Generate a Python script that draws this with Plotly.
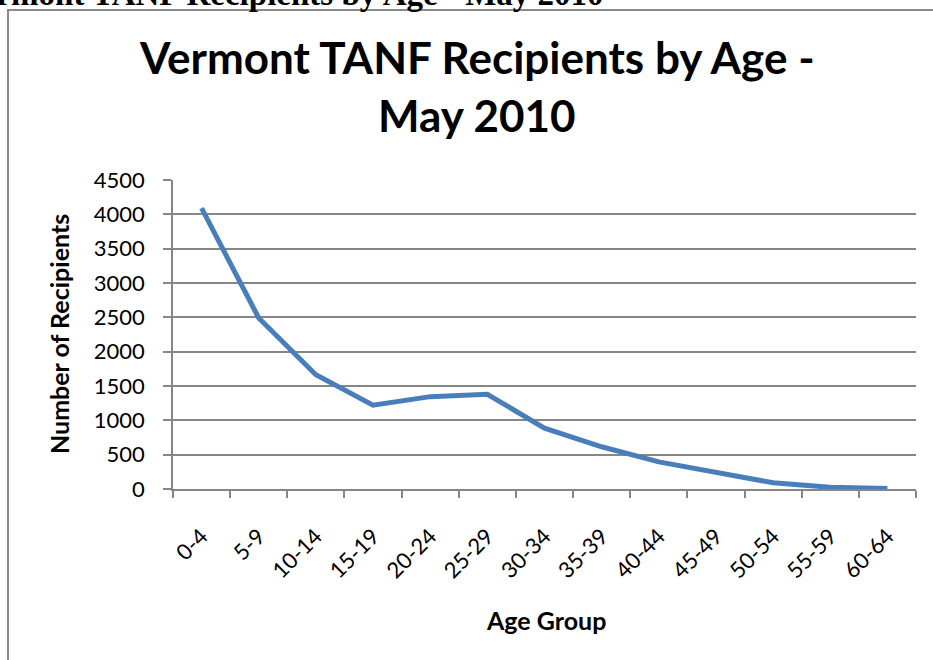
import plotly.graph_objects as go

age_groups = ["0-4", "5-9", "10-14", "15-19", "20-24", "25-29", "30-34",
              "35-39", "40-44", "45-49", "50-54", "55-59", "60-64"]
recipients = [4090, 2490, 1665, 1220, 1345, 1380, 885, 615, 395, 235, 90, 25, 8]
y_ticks = [0, 500, 1000, 1500, 2000, 2500, 3000, 3500, 4000, 4500]

title_line1 = "Vermont TANF Recipients by Age -"
title_line2 = "May 2010"
header_text = "Vermont TANF Recipients by Age - May 2010"
x_title = "Age Group"
y_title = "Number of Recipients"

W, H = 933, 660
L, R, T, B = 173, 17, 180, 171
PW, PH = W - L - R, H - T - B


def px(x):
    return (x - L) / PW


def py(y):
    return (H - B - y) / PH


GRID = "#868686"
FONT = "Lato"

fig = go.Figure(go.Scatter(
    x=age_groups, y=recipients, mode="lines",
    line=dict(color="#4A7EBB", width=5),
    hoverinfo="x+y",
))

fig.update_layout(
    width=W, height=H,
    margin=dict(l=L, r=R, t=T, b=B, pad=0),
    paper_bgcolor="white", plot_bgcolor="white",
    showlegend=False,
    font=dict(family=FONT, color="black", size=22),
    xaxis=dict(
        type="category", range=[-0.5, len(age_groups) - 0.5],
        showline=True, linecolor=GRID, linewidth=1.5,
        ticks="outside", tickson="boundaries", ticklen=7, tickcolor=GRID, tickwidth=1.5,
        showgrid=False, tickangle=-45, ticklabelstandoff=24,
        tickfont=dict(family=FONT, size=22, color="black"),
        fixedrange=True,
    ),
    yaxis=dict(
        range=[0, 4500], tickvals=y_ticks, ticktext=[str(v) for v in y_ticks],
        showline=True, linecolor=GRID, linewidth=1.5,
        ticks="outside", ticklen=8, tickcolor=GRID, tickwidth=1.5,
        showgrid=True, gridcolor=GRID, gridwidth=1.5, zeroline=False,
        ticklabelstandoff=14,
        tickfont=dict(family=FONT, size=22, color="black"),
        fixedrange=True,
    ),
    annotations=[
        dict(text="<b>" + title_line1 + "</b>", xref="paper", yref="paper",
             x=px(477), y=py(57), xanchor="center", yanchor="middle", showarrow=False,
             font=dict(family=FONT, size=44, color="black")),
        dict(text="<b>" + title_line2 + "</b>", xref="paper", yref="paper",
             x=px(477), y=py(115), xanchor="center", yanchor="middle", showarrow=False,
             font=dict(family=FONT, size=44, color="black")),
        dict(text="<b>" + x_title + "</b>", xref="paper", yref="paper",
             x=px(546), y=py(620), xanchor="center", yanchor="middle", showarrow=False,
             font=dict(family=FONT, size=25, color="black")),
        dict(text="<b>" + y_title + "</b>", xref="paper", yref="paper",
             x=px(59), y=py(334), xanchor="center", yanchor="middle", showarrow=False,
             textangle=-90, font=dict(family=FONT, size=25, color="black")),
        dict(text="<b>" + header_text + "</b>", xref="paper", yref="paper",
             x=px(-41), y=py(14), xanchor="left", yanchor="bottom", showarrow=False,
             font=dict(family="Liberation Serif", size=33, color="black")),
    ],
    shapes=[
        dict(type="line", xref="paper", yref="paper", x0=px(8), x1=px(8),
             y0=py(10), y1=py(H + 5), line=dict(color="#8A8A8A", width=2)),
        dict(type="line", xref="paper", yref="paper", x0=px(7), x1=px(W + 5),
             y0=py(10), y1=py(10), line=dict(color="#8A8A8A", width=2)),
    ],
)

fig.write_html("out.html", config={"displayModeBar": False},
               post_script="document.body.style.margin='0';")
